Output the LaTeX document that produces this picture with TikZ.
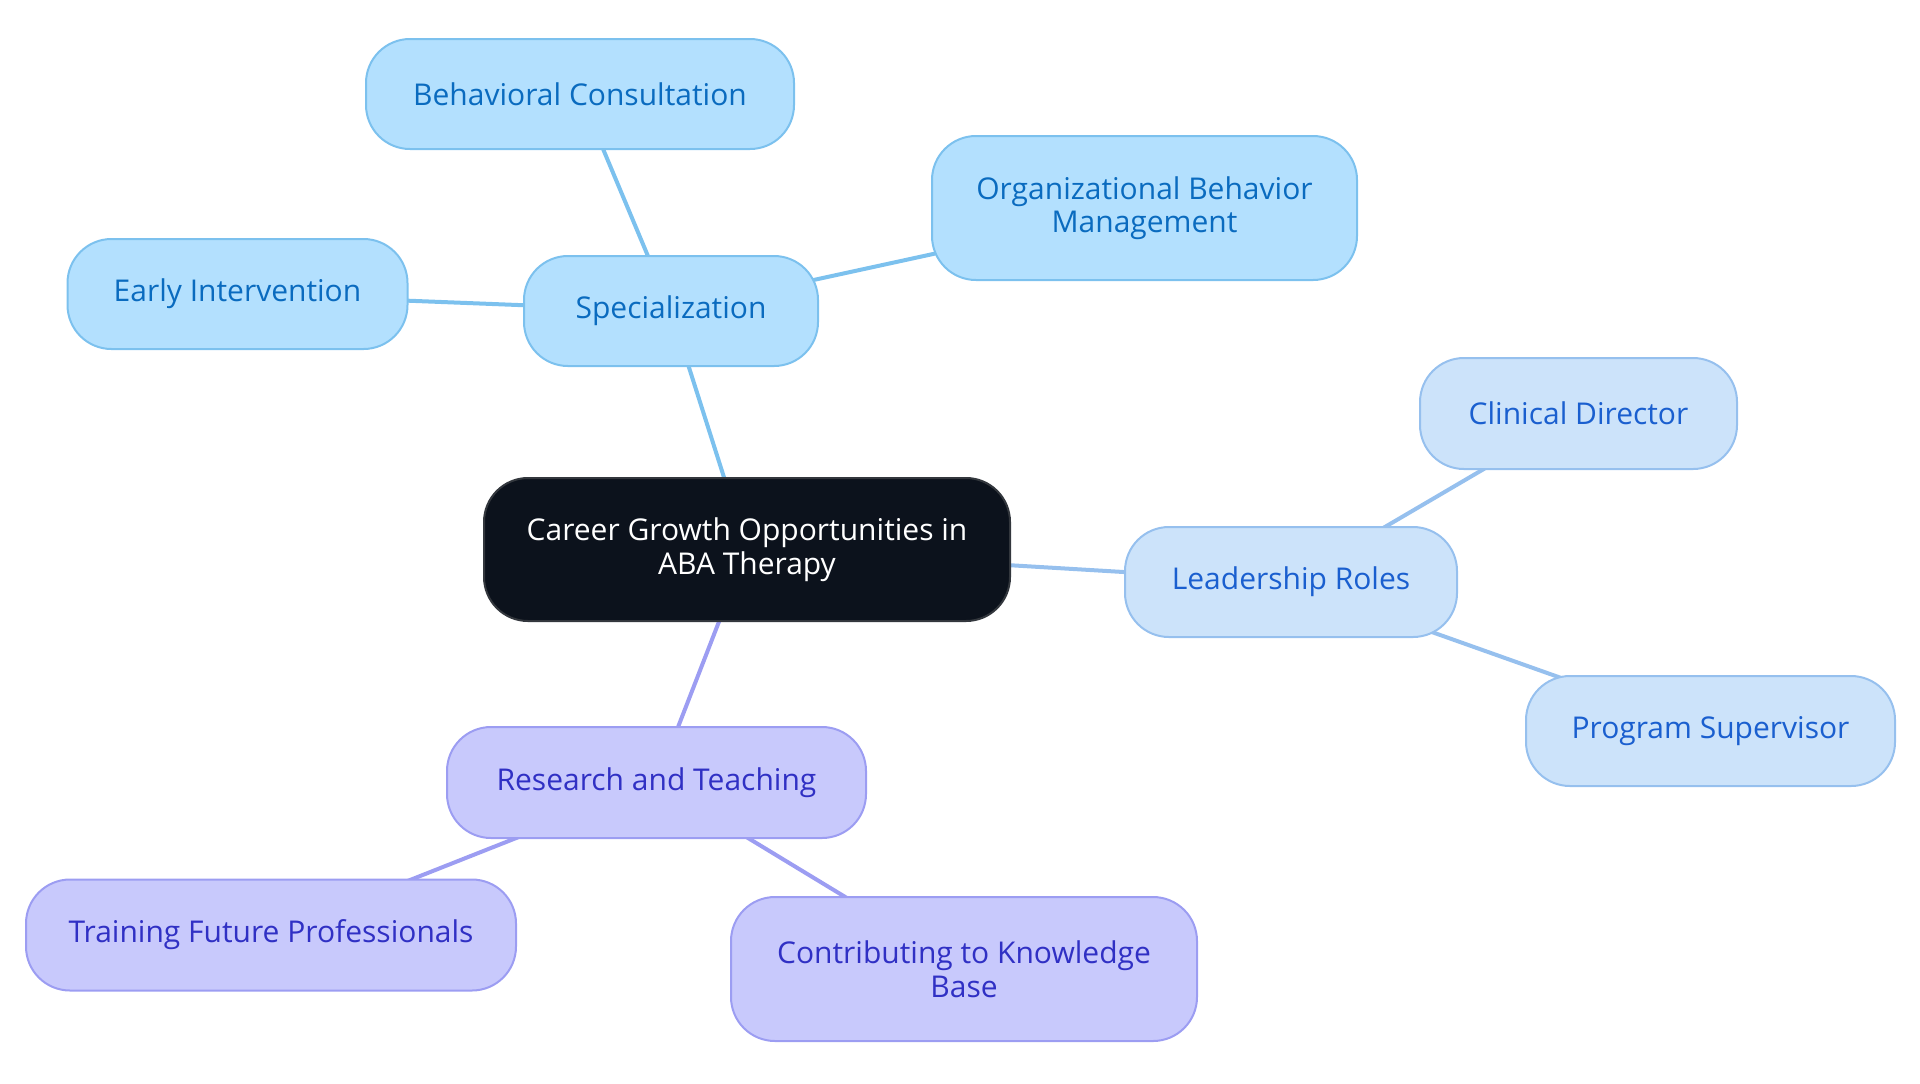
\documentclass[tikz,border=0pt]{standalone}
\usepackage{fontspec}
\setmainfont{Open Sans}
\usetikzlibrary{backgrounds}
\definecolor{cfill}{HTML}{0C121C}
\definecolor{cline}{HTML}{33373D}
\definecolor{sfill}{HTML}{B3E0FE}
\definecolor{sline}{HTML}{7CC1EE}
\definecolor{stext}{HTML}{0A6BBF}
\definecolor{lfill}{HTML}{CCE3FA}
\definecolor{lline}{HTML}{96C0EE}
\definecolor{ltext}{HTML}{1A5FCF}
\definecolor{rfill}{HTML}{C8C9FC}
\definecolor{rline}{HTML}{9C9DF2}
\definecolor{rtext}{HTML}{3030C4}
\begin{document}
\begin{tikzpicture}[x=0.5pt,y=-0.5pt,
  box/.style={rounded corners=22pt, draw, line width=1pt, align=center, inner sep=0pt,
    font=\fontsize{15}{16.8}\selectfont},
  centralbox/.style={box, fill=cfill, draw=cline, text=white},
  specbox/.style={box, fill=sfill, draw=sline, text=stext},
  leadbox/.style={box, fill=lfill, draw=lline, text=ltext},
  resbox/.style={box, fill=rfill, draw=rline, text=rtext},
  sedge/.style={draw=sline, line width=2pt},
  ledge/.style={draw=lline, line width=2pt},
  redge/.style={draw=rline, line width=2pt}]
\useasboundingbox (0,0) rectangle (1920,1083);

\node[centralbox, minimum width=263pt, minimum height=71.5pt] (c) at (747,549.5) {Career Growth Opportunities in\\ABA Therapy};

\node[specbox, minimum width=147pt, minimum height=55pt] (spec) at (671,311) {Specialization};
\node[specbox, minimum width=214pt, minimum height=55pt] (behav) at (580,94) {Behavioral Consultation};
\node[specbox, minimum width=212.5pt, minimum height=72pt] (obm) at (1144.5,208) {Organizational Behavior\\Management};
\node[specbox, minimum width=170pt, minimum height=55pt] (early) at (237.5,294) {Early Intervention};

\node[leadbox, minimum width=166pt, minimum height=55pt] (lead) at (1291,582) {Leadership Roles};
\node[leadbox, minimum width=158.5pt, minimum height=55.5pt] (clin) at (1578.5,413.5) {Clinical Director};
\node[leadbox, minimum width=184.5pt, minimum height=55pt] (prog) at (1710.5,731) {Program Supervisor};

\node[resbox, minimum width=209.5pt, minimum height=55.5pt] (res) at (656.5,782.5) {Research and Teaching};
\node[resbox, minimum width=245pt, minimum height=55.5pt] (train) at (271,935) {Training Future Professionals};
\node[resbox, minimum width=233pt, minimum height=72pt] (contr) at (964,969) {Contributing to Knowledge\\Base};

\begin{scope}[on background layer]
  \draw[sedge] (c.center) -- (spec.center);
  \draw[sedge] (spec.center) -- (behav.center);
  \draw[sedge] (spec.center) -- (obm.center);
  \draw[sedge] (spec.center) -- (early.center);
  \draw[ledge] (c.center) -- (lead.center);
  \draw[ledge] (lead.center) -- (clin.center);
  \draw[ledge] (lead.center) -- (prog.center);
  \draw[redge] (c.center) -- (res.center);
  \draw[redge] (res.center) -- (train.center);
  \draw[redge] (res.center) -- (contr.center);
\end{scope}
\end{tikzpicture}
\end{document}
